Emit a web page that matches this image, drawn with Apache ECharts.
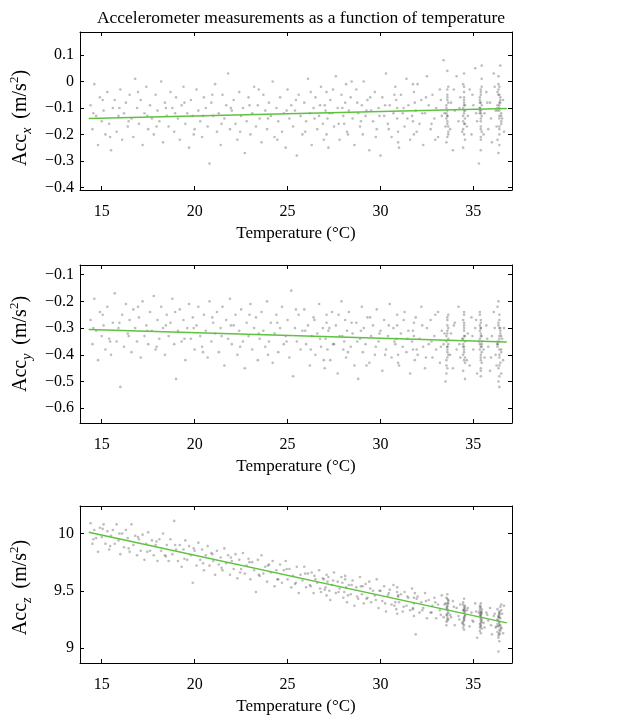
<!DOCTYPE html>
<html>
<head>
<meta charset="utf-8">
<script src="https://cdn.jsdelivr.net/npm/echarts@6.0.0/dist/echarts.min.js"></script>
<style>
  html, body { margin: 0; padding: 0; background: #fff; }
  #chart { width: 637px; height: 727px; }
</style>
</head>
<body>
<div id="chart"></div>
<script>
// tick labels
const tempTicks = [15, 20, 25, 30, 35];
const accXTicks = [-0.4, -0.3, -0.2, -0.1, 0, 0.1];
const accYTicks = [-0.6, -0.5, -0.4, -0.3, -0.2, -0.1];
const accZTicks = [9, 9.5, 10];

// linear fits
const accXFit = [[14.3, -0.14], [36.8, -0.102]];
const accYFit = [[14.3, -0.305], [36.8, -0.352]];
const accZFit = [[14.3, 10.01], [36.8, 9.22]];

// samples estimated from the point clouds
const accXPoints = [
  [14.4,-0.09],[14.5,-0.18],[14.6,-0.01],[14.7,-0.13],[14.8,-0.24],[14.9,-0.06],[15.0,-0.15],[15.1,-0.11],[15.2,-0.2],[15.3,-0.04],
  [15.4,-0.16],[15.5,-0.26],[15.6,-0.1],[15.7,-0.07],[15.8,-0.19],[15.9,-0.13],[16.0,-0.03],[16.1,-0.22],[16.2,-0.12],[16.3,-0.08],
  [16.4,-0.17],[16.5,-0.05],[16.6,-0.14],[16.7,-0.21],[16.8,0.01],[16.9,-0.1],[17.0,-0.16],[17.1,-0.07],[17.2,-0.24],[17.3,-0.12],
  [17.4,-0.02],[17.5,-0.18],[17.6,-0.09],[17.7,-0.14],[17.8,-0.2],[17.9,-0.05],[18.0,-0.11],[18.1,-0.15],[18.2,0.0],[18.3,-0.23],
  [18.4,-0.08],[18.5,-0.13],[18.6,-0.17],[18.7,-0.04],[18.8,-0.1],[18.9,-0.19],[19.0,-0.06],[19.1,-0.14],[19.2,-0.22],[19.3,-0.09],
  [19.4,-0.02],[19.5,-0.16],[19.6,-0.12],[19.7,-0.25],[19.8,-0.07],[19.9,-0.13],[20.0,-0.18],[20.1,-0.03],[20.2,-0.11],[20.3,-0.15],
  [20.4,-0.21],[20.5,-0.06],[20.6,-0.1],[20.7,-0.17],[20.8,-0.31],[20.9,-0.08],[21.0,-0.13],[21.1,-0.01],[21.2,-0.19],[21.3,-0.12],
  [21.4,-0.24],[21.5,-0.05],[21.6,-0.14],[21.7,-0.09],[21.8,0.03],[21.9,-0.18],[22.0,-0.11],[22.1,-0.07],[22.2,-0.16],[22.3,-0.22],
  [22.4,-0.04],[22.5,-0.13],[22.6,-0.1],[22.7,-0.27],[22.8,-0.15],[22.9,-0.06],[23.0,-0.2],[23.1,-0.12],[23.2,-0.02],[23.3,-0.17],
  [23.4,-0.09],[23.5,-0.14],[23.6,-0.23],[23.7,-0.05],[23.8,-0.11],[23.9,-0.18],[24.0,-0.08],[24.1,-0.13],[24.2,0.0],[24.3,-0.21],
  [24.4,-0.1],[24.5,-0.15],[24.6,-0.06],[24.7,-0.19],[24.8,-0.12],[24.9,-0.25],[25.0,-0.03],[25.1,-0.14],[25.2,-0.09],[25.3,-0.17],
  [25.4,-0.11],[25.5,-0.28],[25.6,-0.05],[25.7,-0.13],[25.8,-0.2],[25.9,-0.08],[26.0,-0.15],[26.1,0.01],[26.2,-0.12],[26.3,-0.24],
  [26.4,-0.1],[26.5,-0.06],[26.6,-0.18],[26.7,-0.13],[26.8,-0.02],[26.9,-0.16],[27.0,-0.09],[27.1,-0.2],[27.05,-0.11],[27.1,-0.04],
  [27.15,-0.14],[27.2,-0.25],[27.3,-0.07],[27.4,-0.12],[27.5,-0.17],[27.6,0.02],[27.7,-0.1],[27.8,-0.22],[27.9,-0.05],[28.0,-0.13],
  [28.1,-0.08],[28.05,-0.16],[28.15,-0.01],[28.2,-0.19],[28.3,-0.11],[28.4,-0.06],[28.5,-0.14],[28.6,-0.24],[28.7,-0.03],[28.8,-0.12],
  [28.9,-0.17],[29.0,-0.09],[29.05,-0.2],[29.1,0.0],[29.2,-0.13],[29.3,-0.07],[29.4,-0.26],[29.5,-0.11],[29.6,-0.15],[29.7,-0.04],
  [29.8,-0.18],[29.9,-0.1],[30.0,-0.28],[30.1,-0.06],[30.2,-0.13],[30.3,0.03],[30.4,-0.16],[30.5,-0.09],[30.6,-0.21],[30.7,-0.12],
  [30.8,-0.02],[30.9,-0.14],[30.85,-0.07],[30.95,-0.19],[30.9,-0.1],[31.0,-0.25],[31.1,-0.05],[31.2,-0.12],[31.3,-0.17],[31.4,0.01],
  [31.5,-0.09],[31.6,-0.22],[31.7,-0.13],[31.8,-0.04],[31.75,-0.15],[31.85,-0.08],[31.8,-0.2],[31.9,-0.11],[32.0,-0.01],[32.1,-0.16],
  [32.2,-0.07],[32.3,-0.24],[32.4,-0.12],[32.5,0.02],[32.6,-0.09],[32.7,-0.18],[32.8,-0.05],[32.9,-0.14],[33.0,-0.1],[33.1,-0.21],
  [33.2,-0.03],[33.3,-0.13],[33.4,0.08],[33.5,-0.17],
  [33.55,-0.12],[33.6,-0.06],[33.65,-0.19],[33.55,-0.09],[33.6,-0.15],[33.65,-0.02],[33.55,-0.23],[33.6,-0.11],[33.65,-0.08],[33.55,-0.14],
  [33.6,0.04],[33.65,-0.17],[33.55,-0.1],[33.6,-0.05],[33.65,-0.2],[33.6,-0.13],
  [33.8,-0.08],[33.9,-0.26],[34.0,-0.11],[34.1,0.02],[34.2,-0.15],[34.3,-0.06],[34.4,-0.19],
  [34.45,-0.1],[34.5,-0.04],[34.55,-0.16],[34.45,-0.13],[34.5,-0.07],[34.55,-0.22],[34.45,-0.01],[34.5,-0.12],[34.55,-0.09],[34.45,-0.18],
  [34.5,0.03],[34.55,-0.14],[34.45,-0.25],[34.5,-0.06],[34.55,-0.11],[34.45,-0.15],[34.5,-0.08],
  [34.7,-0.13],[34.8,-0.03],[34.9,-0.2],[35.0,-0.09],[35.1,0.05],[35.2,-0.15],[35.3,-0.31],
  [35.35,-0.1],[35.4,-0.05],[35.45,-0.13],[35.35,-0.08],[35.4,-0.17],[35.45,-0.02],[35.35,-0.11],[35.4,-0.21],[35.45,0.06],[35.35,-0.07],
  [35.4,-0.14],[35.45,-0.09],[35.35,-0.12],[35.4,-0.04],[35.45,-0.19],[35.35,-0.1],[35.4,-0.26],[35.45,0.01],[35.35,-0.06],[35.4,-0.15],
  [35.6,-0.12],[35.7,-0.04],[35.8,-0.18],[35.9,-0.08],[36.0,-0.23],[36.1,0.03],[36.2,-0.11],
  [36.3,-0.09],[36.35,-0.03],[36.4,-0.13],[36.45,-0.06],[36.5,-0.16],[36.3,-0.1],[36.35,0.02],[36.4,-0.2],[36.45,-0.07],[36.5,-0.12],
  [36.3,-0.04],[36.35,-0.27],[36.4,-0.09],[36.45,0.06],[36.5,-0.15],[36.3,-0.11],[36.35,-0.01],[36.4,-0.18],[36.45,-0.08],[36.5,-0.13],
  [36.3,-0.22],[36.35,-0.05],[36.4,-0.1],
  [36.55,-0.14],[36.6,-0.07],[36.65,-0.19]
];
const accXMore = [
  [14.55,-0.12],[15.05,-0.07],[15.45,-0.21],[15.95,-0.1],[16.45,-0.15],[16.95,-0.04],[17.45,-0.13],[17.95,-0.17],[18.45,-0.1],[18.95,-0.12],
  [19.45,-0.08],[19.95,-0.2],[20.45,-0.13],[20.95,-0.05],[21.45,-0.16],[21.95,-0.1],[22.45,-0.19],[22.95,-0.09],[23.45,-0.03],[23.95,-0.14],
  [24.45,-0.22],[24.95,-0.11],[25.45,-0.07],[25.95,-0.19],[26.25,-0.04],[26.45,-0.14],[26.75,-0.09],[26.95,-0.22],[27.25,-0.12],[27.45,-0.03],
  [27.75,-0.16],[27.95,-0.1],[28.25,-0.2],[28.45,0.0],[28.75,-0.08],[28.95,-0.15],[29.25,-0.11],[29.45,-0.06],[29.75,-0.21],[29.95,-0.13],
  [30.25,-0.09],[30.45,-0.18],[30.75,-0.05],[30.95,-0.23],[31.25,-0.1],[31.45,-0.14],[31.75,-0.01],[31.95,-0.19],[32.25,-0.12],[32.45,-0.06],
  [32.75,-0.16],[32.95,-0.22],[33.25,-0.07],[33.45,-0.12],[33.75,-0.18],[33.95,-0.03],[34.25,-0.1],[34.65,-0.17],[34.95,-0.05],[35.15,-0.12],
  [35.55,-0.2],[35.75,-0.08],[35.95,-0.14],[36.15,-0.02],[36.25,-0.17],
  [33.6,-0.07],[33.6,-0.16],[33.6,-0.21],[33.6,-0.03],[33.6,-0.13],[34.5,-0.11],[34.5,-0.02],[34.5,-0.2],[34.5,-0.09],[34.5,-0.16],
  [35.4,-0.12],[35.4,-0.03],[35.4,-0.18],[35.4,-0.08],[35.4,-0.22],[35.4,-0.11],[36.4,-0.05],[36.4,-0.14],[36.4,-0.11],[36.4,-0.24],
  [36.4,-0.02],[36.4,-0.17],[36.4,-0.08]
];

const accYPoints = [
  [14.4,-0.27],[14.5,-0.36],[14.6,-0.19],[14.7,-0.31],[14.8,-0.42],[14.9,-0.24],[15.0,-0.33],[15.1,-0.29],[15.2,-0.38],[15.3,-0.22],
  [15.4,-0.34],[15.5,-0.4],[15.6,-0.28],[15.7,-0.17],[15.8,-0.35],[15.9,-0.3],[16.0,-0.52],[16.1,-0.25],[16.2,-0.37],[16.3,-0.21],
  [16.4,-0.32],[16.5,-0.27],[16.6,-0.39],[16.7,-0.23],[16.8,-0.3],[16.9,-0.35],[17.0,-0.26],[17.1,-0.41],[17.2,-0.2],[17.3,-0.33],
  [17.4,-0.29],[17.5,-0.36],[17.6,-0.24],[17.7,-0.31],[17.8,-0.18],[17.9,-0.38],[18.0,-0.27],[18.1,-0.34],[18.2,-0.22],[18.3,-0.3],
  [18.4,-0.4],[18.5,-0.25],[18.6,-0.33],[18.7,-0.28],[18.8,-0.19],[18.9,-0.36],[19.0,-0.49],[19.1,-0.31],[19.2,-0.23],[19.3,-0.35],
  [19.4,-0.27],[19.5,-0.42],[19.6,-0.3],[19.7,-0.21],[19.8,-0.34],[19.9,-0.26],[20.0,-0.38],[20.1,-0.29],[20.2,-0.22],[20.3,-0.33],
  [20.4,-0.37],[20.5,-0.25],[20.6,-0.31],[20.7,-0.41],[20.8,-0.2],[20.9,-0.35],[21.0,-0.28],[21.1,-0.32],[21.2,-0.24],[21.3,-0.39],
  [21.4,-0.3],[21.5,-0.22],[21.6,-0.44],[21.7,-0.27],[21.8,-0.34],[21.9,-0.19],[22.0,-0.36],[22.1,-0.29],[22.2,-0.25],[22.3,-0.4],
  [22.4,-0.31],[22.5,-0.23],[22.6,-0.35],[22.7,-0.45],[22.8,-0.28],[22.9,-0.33],[23.0,-0.21],[23.1,-0.38],[23.2,-0.3],[23.3,-0.26],
  [23.4,-0.42],[23.5,-0.34],[23.6,-0.24],[23.7,-0.31],[23.8,-0.37],[23.9,-0.2],[24.0,-0.35],[24.1,-0.28],[24.2,-0.43],[24.3,-0.32],
  [24.4,-0.25],[24.5,-0.39],[24.6,-0.3],[24.7,-0.22],[24.8,-0.36],[24.9,-0.33],[25.0,-0.27],[25.1,-0.41],[25.2,-0.16],[25.3,-0.48],
  [25.4,-0.3],[25.5,-0.35],[25.6,-0.25],[25.7,-0.38],[25.8,-0.31],[25.9,-0.23],[26.0,-0.36],[26.1,-0.29],[26.2,-0.44],[26.3,-0.33],
  [26.4,-0.26],[26.5,-0.4],[26.6,-0.32],[26.7,-0.21],[26.8,-0.37],[26.9,-0.3],[27.0,-0.45],[27.1,-0.28],[27.05,-0.34],[27.15,-0.38],
  [27.1,-0.25],[27.2,-0.31],[27.3,-0.42],[27.4,-0.24],[27.5,-0.36],[27.6,-0.29],[27.7,-0.47],[27.8,-0.33],[27.9,-0.2],[28.0,-0.38],
  [28.1,-0.27],[28.05,-0.35],[28.15,-0.41],[28.2,-0.31],[28.3,-0.24],[28.4,-0.37],[28.5,-0.32],[28.6,-0.44],[28.7,-0.28],[28.8,-0.49],
  [28.9,-0.34],[29.0,-0.22],[29.05,-0.39],[29.1,-0.3],[29.2,-0.36],[29.3,-0.26],[29.4,-0.43],[29.5,-0.33],[29.6,-0.29],[29.7,-0.4],
  [29.8,-0.23],[29.9,-0.35],[30.0,-0.31],[30.1,-0.46],[30.2,-0.27],[30.3,-0.38],[30.4,-0.33],[30.5,-0.21],[30.6,-0.41],[30.7,-0.3],
  [30.8,-0.36],[30.9,-0.25],[30.85,-0.34],[30.95,-0.4],[30.9,-0.29],[31.0,-0.44],[31.1,-0.32],[31.2,-0.37],[31.3,-0.24],[31.4,-0.39],
  [31.5,-0.31],[31.6,-0.47],[31.7,-0.35],[31.8,-0.28],[31.75,-0.38],[31.85,-0.42],[31.8,-0.33],[31.9,-0.26],[32.0,-0.4],[32.1,-0.34],
  [32.2,-0.22],[32.3,-0.37],[32.4,-0.45],[32.5,-0.3],[32.6,-0.36],[32.7,-0.27],[32.8,-0.41],[32.9,-0.33],[33.0,-0.38],[33.1,-0.24],
  [33.2,-0.43],[33.3,-0.31],[33.4,-0.36],[33.5,-0.5],
  [33.55,-0.35],[33.6,-0.29],[33.65,-0.4],[33.55,-0.33],[33.6,-0.38],[33.65,-0.25],[33.55,-0.44],[33.6,-0.31],[33.65,-0.36],[33.55,-0.42],
  [33.6,-0.27],[33.65,-0.34],[33.55,-0.47],[33.6,-0.37],[33.65,-0.3],[33.6,-0.39],
  [33.8,-0.32],[33.9,-0.45],[34.0,-0.28],[34.1,-0.38],[34.2,-0.22],[34.3,-0.41],[34.4,-0.34],
  [34.45,-0.36],[34.5,-0.3],[34.55,-0.41],[34.45,-0.27],[34.5,-0.38],[34.55,-0.33],[34.45,-0.46],[34.5,-0.24],[34.55,-0.35],[34.45,-0.4],
  [34.5,-0.31],[34.55,-0.49],[34.45,-0.37],[34.5,-0.28],[34.55,-0.43],[34.45,-0.34],[34.5,-0.39],
  [34.7,-0.32],[34.8,-0.44],[34.9,-0.26],[35.0,-0.38],[35.1,-0.3],[35.2,-0.47],[35.3,-0.35],
  [35.35,-0.34],[35.4,-0.28],[35.45,-0.39],[35.35,-0.25],[35.4,-0.42],[35.45,-0.36],[35.35,-0.31],[35.4,-0.45],[35.45,-0.37],[35.35,-0.29],
  [35.4,-0.4],[35.45,-0.33],[35.35,-0.24],[35.4,-0.48],[35.45,-0.35],[35.35,-0.38],[35.4,-0.3],[35.45,-0.43],[35.35,-0.36],[35.4,-0.32],
  [35.6,-0.41],[35.7,-0.29],[35.8,-0.37],[35.9,-0.46],[36.0,-0.33],[36.1,-0.24],[36.2,-0.4],
  [36.3,-0.35],[36.35,-0.28],[36.4,-0.41],[36.45,-0.32],[36.5,-0.38],[36.3,-0.22],[36.35,-0.45],[36.4,-0.34],[36.45,-0.3],[36.5,-0.39],
  [36.3,-0.36],[36.35,-0.5],[36.4,-0.27],[36.45,-0.43],[36.5,-0.33],[36.3,-0.37],[36.35,-0.2],[36.4,-0.4],[36.45,-0.31],[36.5,-0.47],
  [36.3,-0.36],[36.35,-0.29],[36.4,-0.52],
  [36.55,-0.34],[36.6,-0.42],[36.65,-0.3]
];
const accYMore = [
  [14.55,-0.3],[15.05,-0.25],[15.45,-0.35],[15.95,-0.28],[16.45,-0.33],[16.95,-0.22],[17.45,-0.31],[17.95,-0.37],[18.45,-0.29],[18.95,-0.24],
  [19.45,-0.34],[19.95,-0.3],[20.45,-0.39],[20.95,-0.26],[21.45,-0.33],[21.95,-0.29],[22.45,-0.37],[22.95,-0.25],[23.45,-0.32],[23.95,-0.4],
  [24.45,-0.28],[24.95,-0.35],[25.45,-0.23],[25.95,-0.31],[26.25,-0.38],[26.45,-0.27],[26.75,-0.34],[26.95,-0.42],[27.25,-0.3],[27.45,-0.36],
  [27.75,-0.25],[27.95,-0.33],[28.25,-0.39],[28.45,-0.28],[28.75,-0.35],[28.95,-0.31],[29.25,-0.44],[29.45,-0.26],[29.75,-0.37],[29.95,-0.32],
  [30.25,-0.4],[30.45,-0.29],[30.75,-0.35],[30.95,-0.43],[31.25,-0.27],[31.45,-0.34],[31.75,-0.31],[31.95,-0.38],[32.25,-0.29],[32.45,-0.41],
  [32.75,-0.35],[32.95,-0.25],[33.25,-0.37],[33.45,-0.32],[33.75,-0.4],[33.95,-0.29],[34.25,-0.36],[34.65,-0.42],[34.95,-0.33],[35.15,-0.27],
  [35.55,-0.38],[35.75,-0.34],[35.95,-0.41],[36.15,-0.3],[36.25,-0.44],
  [33.6,-0.32],[33.6,-0.41],[33.6,-0.26],[33.6,-0.37],[33.6,-0.45],[34.5,-0.33],[34.5,-0.29],[34.5,-0.42],[34.5,-0.37],[34.5,-0.25],
  [35.4,-0.33],[35.4,-0.27],[35.4,-0.41],[35.4,-0.37],[35.4,-0.46],[35.4,-0.3],[36.4,-0.33],[36.4,-0.38],[36.4,-0.25],[36.4,-0.44],
  [36.4,-0.35],[36.4,-0.3],[36.4,-0.48]
];

const accZPoints = [
  [14.4,10.09],[14.5,9.91],[14.6,10.03],[14.7,9.96],[14.8,9.84],[14.9,10.05],[15.0,9.97],[15.1,10.08],[15.2,9.91],[15.3,10.02],
  [15.4,9.86],[15.5,9.98],[15.6,10.03],[15.7,9.91],[15.8,10.08],[15.9,9.94],[16.0,9.82],[16.1,10.0],[16.2,9.88],[16.3,10.03],
  [16.4,9.96],[16.5,9.84],[16.6,10.08],[16.7,9.9],[16.8,9.98],[16.9,9.81],[17.0,9.95],[17.1,9.85],[17.2,9.99],[17.3,9.77],
  [17.4,9.91],[17.5,10.01],[17.6,9.85],[17.7,9.94],[17.8,9.81],[17.9,9.9],[18.0,9.76],[18.1,9.95],[18.2,9.85],[18.3,10.0],
  [18.4,9.81],[18.5,9.9],[18.6,9.76],[18.7,9.95],[18.8,9.82],[18.9,10.11],[19.0,9.86],[19.1,9.76],[19.2,9.9],[19.3,9.71],
  [19.4,9.86],[19.5,9.94],[19.6,9.77],[19.7,9.89],[19.8,9.81],[19.9,9.57],[20.0,9.85],[20.1,9.72],[20.2,9.92],[20.3,9.77],
  [20.4,9.86],[20.5,9.68],[20.6,9.81],[20.7,9.89],[20.8,9.72],[20.9,9.83],[21.0,9.76],[21.1,9.64],[21.2,9.85],[21.3,9.73],
  [21.4,9.79],[21.5,9.68],[21.6,9.87],[21.7,9.74],[21.8,9.81],[21.9,9.64],[22.0,9.76],[22.1,9.69],[22.2,9.82],[22.3,9.61],
  [22.4,9.77],[22.5,9.69],[22.6,9.83],[22.7,9.65],[22.8,9.72],[22.9,9.78],[23.0,9.6],[23.1,9.75],[23.2,9.68],[23.3,9.49],
  [23.4,9.77],[23.5,9.63],[23.6,9.81],[23.7,9.65],[23.8,9.71],[23.9,9.58],[24.0,9.73],[24.1,9.66],[24.2,9.76],[24.3,9.54],
  [24.4,9.68],[24.5,9.6],[24.6,9.73],[24.7,9.57],[24.8,9.68],[24.9,9.76],[25.0,9.6],[25.1,9.69],[25.2,9.53],[25.3,9.63],
  [25.4,9.56],[25.5,9.71],[25.6,9.48],[25.7,9.64],[25.8,9.59],[25.9,9.71],[26.0,9.53],[26.1,9.65],[26.2,9.55],[26.3,9.66],
  [26.4,9.48],[26.5,9.6],[26.6,9.57],[26.7,9.68],[26.8,9.49],[26.9,9.61],[27.0,9.51],[27.1,9.64],[27.05,9.53],[27.15,9.58],
  [27.1,9.46],[27.2,9.62],[27.3,9.42],[27.4,9.55],[27.5,9.66],[27.6,9.48],[27.7,9.58],[27.8,9.52],[27.9,9.62],[28.0,9.44],
  [28.1,9.6],[28.05,9.49],[28.15,9.53],[28.1,9.63],[28.2,9.4],[28.3,9.55],[28.4,9.47],[28.5,9.59],[28.6,9.37],[28.7,9.53],
  [28.8,9.43],[28.9,9.62],[29.0,9.47],[29.05,9.54],[29.1,9.39],[29.2,9.56],[29.3,9.44],[29.4,9.58],[29.5,9.4],[29.6,9.5],
  [29.7,9.46],[29.8,9.6],[29.9,9.35],[30.0,9.5],[30.1,9.41],[30.2,9.54],[30.3,9.32],[30.4,9.46],[30.5,9.51],[30.6,9.38],
  [30.7,9.55],[30.8,9.4],[30.9,9.49],[30.85,9.34],[30.95,9.45],[30.9,9.3],[30.9,9.53],[31.0,9.4],[31.1,9.47],[31.2,9.32],
  [31.3,9.49],[31.4,9.37],[31.5,9.44],[31.6,9.33],[31.7,9.52],[31.8,9.44],[31.75,9.35],[31.85,9.48],[31.8,9.39],[31.8,9.28],
  [31.9,9.12],[32.0,9.45],[32.1,9.31],[32.2,9.4],[32.3,9.35],[32.4,9.48],[32.5,9.26],[32.6,9.42],[32.7,9.31],[32.8,9.37],
  [32.9,9.44],[33.0,9.26],[33.1,9.38],[33.2,9.33],[33.3,9.46],[33.4,9.27],[33.5,9.39],
  [33.55,9.35],[33.6,9.28],[33.65,9.41],[33.55,9.23],[33.6,9.37],[33.65,9.31],[33.55,9.44],[33.6,9.26],[33.65,9.39],[33.55,9.2],
  [33.6,9.33],[33.65,9.42],[33.55,9.29],[33.6,9.47],[33.65,9.25],[33.6,9.36],
  [33.8,9.27],[33.9,9.41],[34.0,9.2],[34.1,9.35],[34.2,9.28],[34.3,9.38],[34.4,9.22],
  [34.45,9.33],[34.5,9.26],[34.55,9.37],[34.45,9.21],[34.5,9.31],[34.55,9.28],[34.45,9.4],[34.5,9.24],[34.55,9.35],[34.45,9.18],
  [34.5,9.43],[34.55,9.29],[34.45,9.38],[34.5,9.16],[34.55,9.32],[34.45,9.23],[34.5,9.34],
  [34.7,9.35],[34.8,9.19],[34.9,9.31],[35.0,9.23],[35.1,9.39],[35.2,9.09],[35.3,9.31],
  [35.35,9.29],[35.4,9.22],[35.45,9.34],[35.35,9.18],[35.4,9.31],[35.45,9.25],[35.35,9.37],[35.4,9.2],[35.45,9.32],[35.35,9.15],
  [35.4,9.28],[35.45,9.23],[35.35,9.35],[35.4,9.13],[35.45,9.3],[35.35,9.21],[35.4,9.39],[35.45,9.17],[35.35,9.33],[35.4,9.27],
  [35.6,9.18],[35.7,9.31],[35.8,9.24],[35.9,9.35],[36.0,9.12],[36.1,9.28],[36.2,9.18],
  [36.3,9.25],[36.35,9.19],[36.4,9.29],[36.45,9.15],[36.5,9.33],[36.3,9.21],[36.35,9.27],[36.4,9.12],[36.45,9.36],[36.5,9.17],
  [36.3,9.24],[36.35,9.09],[36.4,9.31],[36.45,9.2],[36.5,9.38],[36.3,9.14],[36.35,9.28],[36.4,9.06],[36.45,9.26],[36.5,9.18],
  [36.3,9.34],[36.35,9.11],[36.4,9.23],[36.35,8.97],
  [36.55,9.3],[36.6,9.13],[36.65,9.37]
];
const accZMore = [
  [14.55,9.95],[15.05,10.04],[15.45,9.89],[15.95,10.0],[16.45,9.87],[16.95,9.97],[17.45,9.84],[17.95,9.93],[18.45,9.8],[18.95,9.9],
  [19.45,9.78],[19.95,9.87],[20.45,9.74],[20.95,9.82],[21.45,9.7],[21.95,9.79],[22.45,9.66],[22.95,9.75],[23.45,9.64],[23.95,9.72],
  [24.45,9.6],[24.95,9.69],[25.45,9.57],[25.95,9.65],[26.25,9.54],[26.45,9.63],[26.75,9.52],[26.95,9.6],[27.25,9.5],[27.45,9.59],
  [27.75,9.49],[27.95,9.57],[28.25,9.46],[28.45,9.55],[28.75,9.45],[28.95,9.54],[29.25,9.43],[29.45,9.52],[29.75,9.42],[29.95,9.5],
  [30.25,9.39],[30.45,9.48],[30.75,9.37],[30.95,9.46],[31.25,9.36],[31.45,9.45],[31.75,9.34],[31.95,9.43],[32.25,9.33],[32.45,9.41],
  [32.75,9.31],[32.95,9.4],[33.25,9.29],[33.45,9.38],[33.75,9.29],[33.95,9.36],[34.25,9.25],[34.65,9.33],[34.95,9.24],[35.15,9.32],
  [35.55,9.22],[35.75,9.29],[35.95,9.2],[36.15,9.3],[36.25,9.19],
  [33.6,9.3],[33.6,9.39],[33.6,9.24],[33.6,9.34],[33.6,9.43],[34.5,9.27],[34.5,9.33],[34.5,9.2],[34.5,9.36],[34.5,9.25],
  [35.4,9.26],[35.4,9.31],[35.4,9.19],[35.4,9.24],[35.4,9.36],[35.4,9.29],[36.4,9.22],[36.4,9.16],[36.4,9.3],[36.4,9.27],
  [36.4,9.13],[36.4,9.2],[36.4,9.32]
];

const FONT = '"Liberation Serif", "DejaVu Serif", serif';
const minus = v => String(v).replace('-', '\u2212');

const chart = echarts.init(document.getElementById('chart'));

const panels = [
  { top: 32,  height: 158, yMin: -0.41, yMax: 0.187, ticks: accXTicks, sub: 'x', points: accXPoints.concat(accXMore), fit: accXFit, shift: 14 },
  { top: 265, height: 158, yMin: -0.655, yMax: -0.064, ticks: accYTicks, sub: 'y', points: accYPoints.concat(accYMore), fit: accYFit, shift: 0 },
  { top: 506, height: 157, yMin: 8.87, yMax: 10.24, ticks: accZTicks, sub: 'z', points: accZPoints.concat(accZMore), fit: accZFit, shift: 6 }
];

const grid = [], xAxis = [], yAxis = [], series = [];

panels.forEach((p, i) => {
  grid.push({ left: 80, width: 432, top: p.top, height: p.height });
  const tick = { show: true, inside: true, length: 4, lineStyle: { color: '#000', width: 1 } };
  const line = { show: true, onZero: false, lineStyle: { color: '#000', width: 1 } };

  xAxis.push({
    type: 'value', gridIndex: i, min: 13.83, max: 37.08, position: 'bottom',
    axisLine: line, axisTick: Object.assign({ customValues: tempTicks }, tick),
    axisLabel: { customValues: tempTicks, margin: 14, fontFamily: FONT, fontSize: 16, color: '#000' },
    splitLine: { show: false },
    name: 'Temperature (\u00b0C)', nameLocation: 'middle', nameGap: 35,
    nameTextStyle: { fontFamily: FONT, fontSize: 17, color: '#000' }
  });
  xAxis.push({
    type: 'value', gridIndex: i, min: 13.83, max: 37.08, position: 'top',
    axisLine: line, axisTick: Object.assign({ customValues: tempTicks }, tick),
    axisLabel: { show: false }, splitLine: { show: false }
  });

  yAxis.push({
    type: 'value', gridIndex: i, min: p.yMin, max: p.yMax, position: 'left',
    axisLine: line, axisTick: Object.assign({ customValues: p.ticks }, tick),
    axisLabel: { customValues: p.ticks, margin: 6, fontFamily: FONT, fontSize: 16, color: '#000', formatter: minus },
    splitLine: { show: false },
    name: '{a|Acc}{s|' + p.sub + '}{a| \u2009(m/s}{p|2}{a|)}',
    nameLocation: 'middle', nameRotate: 90, nameGap: 46,
    nameTextStyle: {
      fontFamily: FONT, color: '#000', padding: [0, p.shift, 0, 0],
      rich: {
        a: { fontFamily: FONT, fontSize: 20, lineHeight: 26, color: '#000' },
        s: { fontFamily: FONT, fontSize: 14, fontStyle: 'italic', lineHeight: 14, verticalAlign: 'bottom', color: '#000' },
        p: { fontFamily: FONT, fontSize: 13, lineHeight: 13, verticalAlign: 'top', color: '#000' }
      }
    }
  });
  yAxis.push({
    type: 'value', gridIndex: i, min: p.yMin, max: p.yMax, position: 'right',
    axisLine: line, axisTick: Object.assign({ customValues: p.ticks }, tick),
    axisLabel: { show: false }, splitLine: { show: false }
  });

  series.push({
    type: 'scatter', xAxisIndex: 2 * i, yAxisIndex: 2 * i,
    data: p.points, symbolSize: 2.6, silent: true,
    itemStyle: { color: 'rgba(60,60,60,0.42)' }
  });
  series.push({
    type: 'line', xAxisIndex: 2 * i, yAxisIndex: 2 * i,
    data: p.fit, symbol: 'none', silent: true,
    lineStyle: { color: '#5ec23f', width: 1.5 }
  });
});

chart.setOption({
  animation: false,
  backgroundColor: '#fff',
  title: {
    text: 'Accelerometer measurements as a function of temperature',
    left: 296, top: 4, textAlign: 'center',
    textStyle: { fontFamily: FONT, fontSize: 17.5, fontWeight: 'normal', color: '#000' }
  },
  grid, xAxis, yAxis, series
});
</script>
</body>
</html>
